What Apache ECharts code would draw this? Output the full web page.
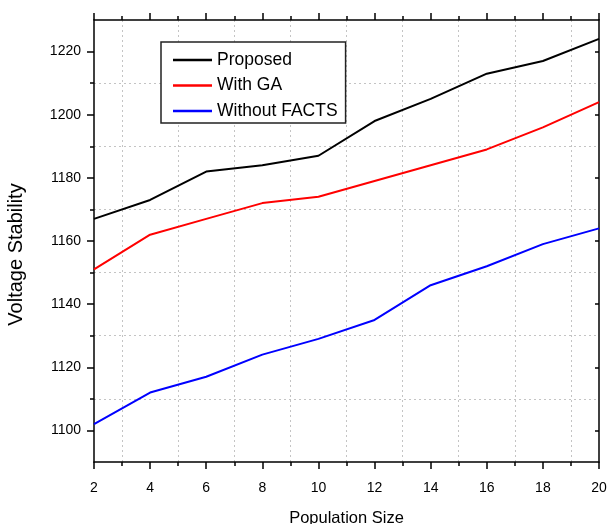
<!DOCTYPE html>
<html>
<head>
<meta charset="utf-8">
<script src="https://cdn.jsdelivr.net/npm/echarts@6/dist/echarts.min.js"></script>
<style>html,body{margin:0;padding:0;background:#fff}#c{width:608px;height:524px}</style>
</head>
<body>
<div id="c"></div>
<script>
const populationSize = [2, 4, 6, 8, 10, 12, 14, 16, 18, 20];
const proposed = [1167, 1173, 1182, 1184, 1187, 1198, 1205, 1213, 1217, 1224];
const withGA = [1151, 1162, 1167, 1172, 1174, 1179, 1184, 1189, 1196, 1204];
const withoutFACTS = [1102, 1112, 1117, 1124, 1129, 1135, 1146, 1152, 1159, 1164];
const yMajorTicks = [1100, 1120, 1140, 1160, 1180, 1200, 1220];
const yMinorTicks = [1110, 1130, 1150, 1170, 1190, 1210];

const FONT = 'Liberation Sans, Arial, sans-serif';
const gridLine = { show: true, lineStyle: { color: '#c4c4c4', type: [2, 3], width: 1 } };
const axisLineStyle = { show: true, lineStyle: { color: '#000', width: 1.5 } };
const plain = v => String(v);

function pairs(vals) { return populationSize.map((x, i) => [x, vals[i]]); }

const chart = echarts.init(document.getElementById('c'));
chart.setOption({
  animation: false,
  backgroundColor: '#fff',
  grid: { left: 94, right: 9, top: 20, bottom: 62, containLabel: false, outerBoundsMode: 'none' },
  legend: {
    orient: 'vertical', left: 161, top: 42,
    padding: [8, 8, 2, 12],
    icon: 'rect',
    itemWidth: 39, itemHeight: 2.5, itemGap: 5.5,
    borderColor: '#222', borderWidth: 1.5,
    backgroundColor: '#fff',
    textStyle: { fontFamily: FONT, fontSize: 17.5, color: '#000', lineHeight: 20 },
    data: ['Proposed', 'With GA', 'Without FACTS']
  },
  xAxis: [
    {
      type: 'value', position: 'bottom', min: 2, max: 20, interval: 2,
      axisLine: axisLineStyle,
      axisTick: { show: true, inside: false, length: 7, lineStyle: { color: '#000', width: 1.5 } },
      minorTick: { show: true, splitNumber: 2, length: 4, lineStyle: { color: '#000', width: 1.5 } },
      splitLine: { show: false },
      minorSplitLine: gridLine,
      axisLabel: { fontFamily: FONT, fontSize: 14, color: '#000', margin: 19, formatter: plain },
      name: 'Population Size', nameLocation: 'middle', nameGap: 48,
      nameTextStyle: { fontFamily: FONT, fontSize: 16.5, color: '#000' }
    },
    {
      type: 'value', position: 'top', min: 2, max: 20, interval: 2,
      axisLine: axisLineStyle,
      axisTick: { show: true, inside: false, length: 7, lineStyle: { color: '#000', width: 1.5 } },
      minorTick: { show: true, splitNumber: 2, length: 4, lineStyle: { color: '#000', width: 1.5 } },
      splitLine: { show: false },
      axisLabel: { show: false }
    }
  ],
  yAxis: [
    {
      type: 'value', position: 'left', min: 1090, max: 1230,
      axisLine: axisLineStyle,
      axisTick: { show: true, inside: false, length: 4, customValues: yMinorTicks, lineStyle: { color: '#000', width: 1.5 } },
      splitLine: gridLine,
      axisLabel: { fontFamily: FONT, fontSize: 14, color: '#000', margin: 13, customValues: yMajorTicks, formatter: plain },
      name: 'Voltage Stability', nameLocation: 'middle', nameGap: 68,
      nameTextStyle: { fontFamily: FONT, fontSize: 20, color: '#000', padding: [0, 27, 0, 0] }
    },
    {
      type: 'value', position: 'left', min: 1090, max: 1230,
      axisLine: { show: false },
      axisTick: { show: true, inside: false, length: 7, customValues: yMajorTicks, lineStyle: { color: '#000', width: 1.5 } },
      splitLine: { show: false },
      axisLabel: { show: false }
    },
    {
      type: 'value', position: 'right', min: 1090, max: 1230,
      axisLine: axisLineStyle,
      axisTick: { show: true, inside: true, length: 4, customValues: yMajorTicks, lineStyle: { color: '#000', width: 1.5 } },
      splitLine: { show: false },
      axisLabel: { show: false }
    }
  ],
  series: [
    { name: 'Proposed', type: 'line', data: pairs(proposed), symbol: 'none', lineStyle: { color: '#000', width: 2 }, itemStyle: { color: '#000' } },
    { name: 'With GA', type: 'line', data: pairs(withGA), symbol: 'none', lineStyle: { color: '#ff0000', width: 2 }, itemStyle: { color: '#ff0000' } },
    { name: 'Without FACTS', type: 'line', data: pairs(withoutFACTS), symbol: 'none', lineStyle: { color: '#0000ff', width: 2 }, itemStyle: { color: '#0000ff' } }
  ]
});
</script>
</body>
</html>
